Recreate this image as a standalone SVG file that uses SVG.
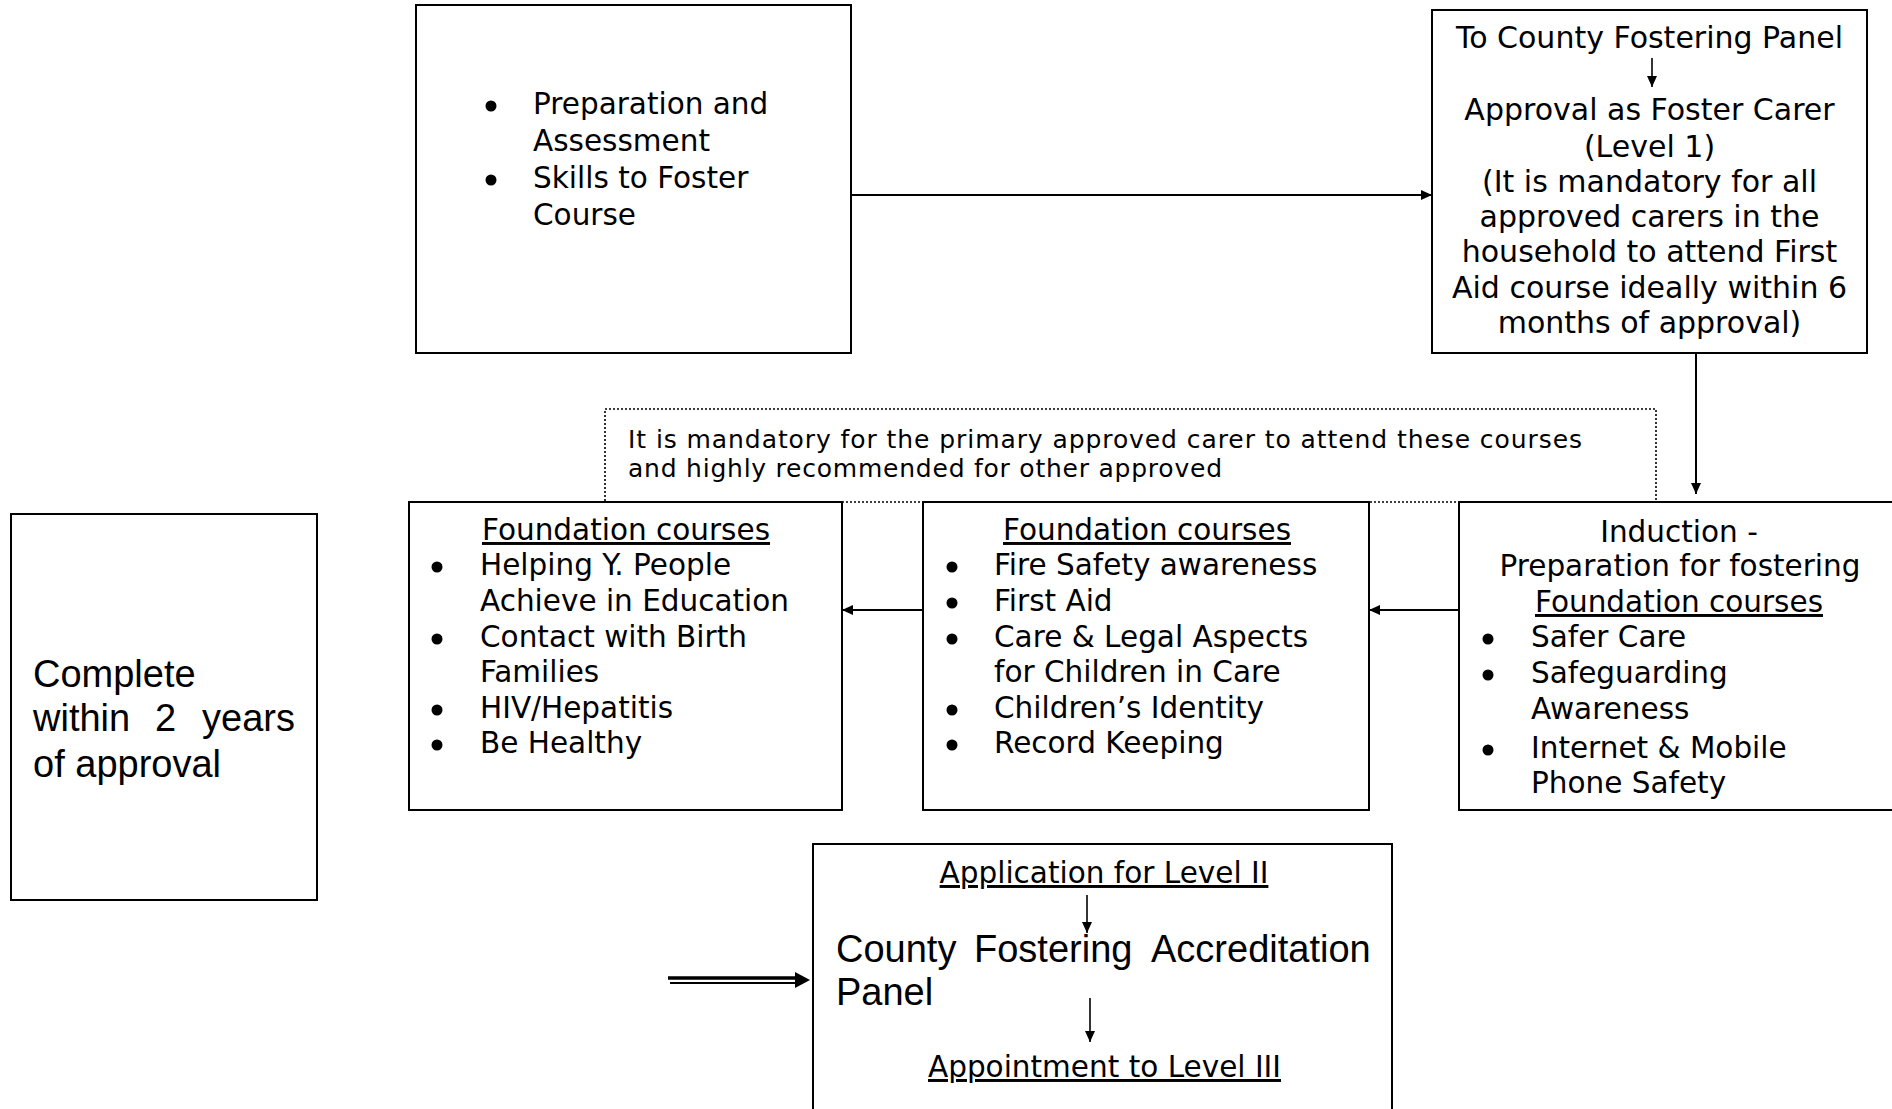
<svg xmlns="http://www.w3.org/2000/svg" width="1892" height="1109" viewBox="0 0 1892 1109">
<defs>
<style>
.box{fill:#fff;stroke:#000;stroke-width:2}
.dot{fill:#fff;stroke:#000;stroke-width:1.6;stroke-dasharray:2 2}
.v{font-family:"DejaVu Sans","Verdana",sans-serif;font-size:29.5px;fill:#000}
.vs{font-family:"DejaVu Sans","Verdana",sans-serif;font-size:25px;fill:#000}
.a{font-family:"Liberation Sans",Arial,sans-serif;font-size:38px;fill:#000}
.c{text-anchor:middle}
.u{text-decoration:underline}
.ln{fill:none;stroke:#000;stroke-width:2}
.bul{fill:#000}
</style>
<marker id="ah" markerUnits="userSpaceOnUse" markerWidth="12" markerHeight="10" refX="11" refY="5" orient="auto">
<path d="M0,0 L11,5 L0,10 z" fill="#000"/>
</marker>
</defs>
<rect width="1892" height="1109" fill="#fff"/>

<g id="note-mandatory">
<rect class="dot" x="605" y="409" width="1051" height="93"/>
<text class="vs" x="628" y="448" textLength="954" lengthAdjust="spacing">It is mandatory for the primary approved carer to attend these courses</text>
<text class="vs" x="628" y="477" textLength="594" lengthAdjust="spacing">and highly recommended for other approved</text>
</g>

<g id="prep-assessment">
<rect class="box" x="416" y="5" width="435" height="348"/>
<circle class="bul" cx="491" cy="106" r="5.5"/>
<circle class="bul" cx="491" cy="180" r="5.5"/>
<text class="v" x="533" y="114">Preparation and</text>
<text class="v" x="533" y="151">Assessment</text>
<text class="v" x="533" y="188">Skills to Foster</text>
<text class="v" x="533" y="225">Course</text>
</g>

<g id="county-panel">
<rect class="box" x="1432" y="10" width="435" height="343"/>
<text class="v c" x="1649.5" y="48" style="font-size:30px">To County Fostering Panel</text>
<line class="ln" x1="1652" y1="58" x2="1652" y2="87" marker-end="url(#ah)" style="stroke-width:1.6"/>
<text class="v c" x="1649.5" y="120" style="font-size:30px">Approval as Foster Carer</text>
<text class="v c" x="1649.5" y="157" style="font-size:30px">(Level 1)</text>
<text class="v c" x="1649.5" y="192" style="font-size:30px">(It is mandatory for all</text>
<text class="v c" x="1649.5" y="227" style="font-size:30px">approved carers in the</text>
<text class="v c" x="1649.5" y="262" style="font-size:30px">household to attend First</text>
<text class="v c" x="1649.5" y="298" style="font-size:30px">Aid course ideally within 6</text>
<text class="v c" x="1649.5" y="333" style="font-size:30px">months of approval)</text>
</g>

<g id="foundation-left">
<rect class="box" x="409" y="502" width="433" height="308"/>
<text class="v c u" x="626" y="540">Foundation courses</text>
<circle class="bul" cx="437" cy="567" r="5.5"/>
<circle class="bul" cx="437" cy="639" r="5.5"/>
<circle class="bul" cx="437" cy="710" r="5.5"/>
<circle class="bul" cx="437" cy="745" r="5.5"/>
<text class="v" x="480" y="575">Helping Y. People</text>
<text class="v" x="480" y="611">Achieve in Education</text>
<text class="v" x="480" y="647">Contact with Birth</text>
<text class="v" x="480" y="682">Families</text>
<text class="v" x="480" y="718">HIV/Hepatitis</text>
<text class="v" x="480" y="753">Be Healthy</text>
</g>

<g id="foundation-middle">
<rect class="box" x="923" y="502" width="446" height="308"/>
<text class="v c u" x="1147" y="540">Foundation courses</text>
<circle class="bul" cx="952" cy="567" r="5.5"/>
<circle class="bul" cx="952" cy="603" r="5.5"/>
<circle class="bul" cx="952" cy="639" r="5.5"/>
<circle class="bul" cx="952" cy="710" r="5.5"/>
<circle class="bul" cx="952" cy="745" r="5.5"/>
<text class="v" x="994" y="575">Fire Safety awareness</text>
<text class="v" x="994" y="611">First Aid</text>
<text class="v" x="994" y="647">Care &amp; Legal Aspects</text>
<text class="v" x="994" y="682">for Children in Care</text>
<text class="v" x="994" y="718">Children’s Identity</text>
<text class="v" x="994" y="753">Record Keeping</text>
</g>

<g id="induction">
<rect class="box" x="1459" y="502" width="450" height="308"/>
<text class="v c" x="1679" y="542">Induction  -</text>
<text class="v c" x="1680" y="576">Preparation for fostering</text>
<text class="v c u" x="1679" y="612">Foundation courses</text>
<circle class="bul" cx="1488" cy="639" r="5.5"/>
<circle class="bul" cx="1488" cy="675" r="5.5"/>
<circle class="bul" cx="1488" cy="750" r="5.5"/>
<text class="v" x="1531" y="647">Safer Care</text>
<text class="v" x="1531" y="683">Safeguarding</text>
<text class="v" x="1531" y="719">Awareness</text>
<text class="v" x="1531" y="758">Internet &amp; Mobile</text>
<text class="v" x="1531" y="793">Phone Safety</text>
</g>

<g id="complete-note">
<rect class="box" x="11" y="514" width="306" height="386"/>
<text class="a" x="33" y="687">Complete</text>
<text class="a" x="33" y="731">within</text>
<text class="a" x="155" y="731">2</text>
<text class="a" x="295" y="731" text-anchor="end">years</text>
<text class="a" x="33" y="777">of approval</text>
</g>

<g id="accreditation">
<rect class="box" x="813" y="844" width="579" height="290"/>
<text class="v c u" x="1104" y="883">Application for Level II</text>
<line class="ln" x1="1087" y1="895" x2="1087" y2="933" marker-end="url(#ah)" style="stroke-width:1.6"/>
<text class="a" y="962"><tspan x="836">County</tspan><tspan x="974">Fostering</tspan><tspan x="1151">Accreditation</tspan></text>
<text class="a" x="836" y="1005">Panel</text>
<line class="ln" x1="1090" y1="998" x2="1090" y2="1042" marker-end="url(#ah)" style="stroke-width:1.6"/>
<text class="v c u" x="1104.5" y="1077">Appointment to Level III</text>
</g>

<g id="connectors">
<line class="ln" x1="851" y1="195" x2="1432" y2="195" marker-end="url(#ah)"/>
<line class="ln" x1="1696" y1="353" x2="1696" y2="494" marker-end="url(#ah)"/>
<line class="ln" x1="1459" y1="610" x2="1369" y2="610" marker-end="url(#ah)"/>
<line class="ln" x1="923" y1="610" x2="842" y2="610" marker-end="url(#ah)"/>
<line x1="668" y1="978" x2="800" y2="978" stroke="#000" stroke-width="3.5"/>
<line x1="670" y1="983" x2="800" y2="983" stroke="#000" stroke-width="2"/>
<path d="M810,980 L795,972 L795,988 z" fill="#000"/>
</g>
</svg>
